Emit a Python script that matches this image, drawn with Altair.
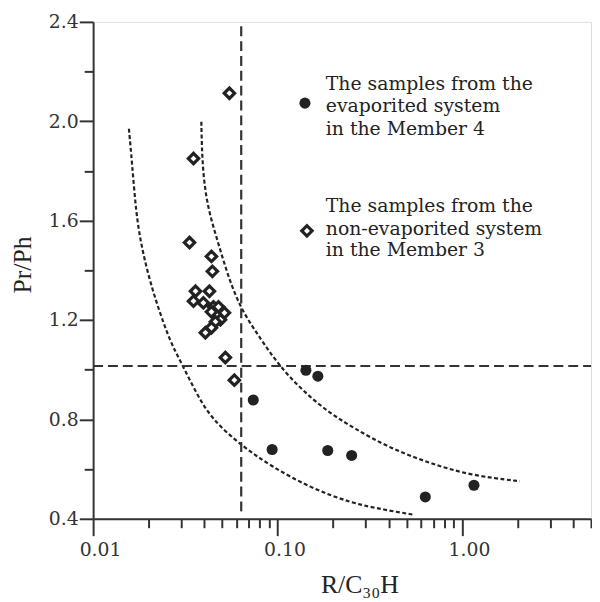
import altair as alt
import pandas as pd

# ---- data ----
evap_x = [0.1424, 0.1653, 0.0738, 0.0934, 0.187, 0.252, 0.632, 1.16]
evap_y = [0.998, 0.974, 0.878, 0.679, 0.675, 0.655, 0.488, 0.535]

non_x = [0.0548, 0.0350, 0.0333, 0.0438, 0.0443, 0.0359, 0.0427, 0.0350, 0.0396,
         0.0449, 0.0478, 0.0515, 0.0438, 0.0490, 0.0460, 0.0438, 0.0406, 0.0521, 0.0583]
non_y = [2.113, 1.850, 1.512, 1.456, 1.396, 1.316, 1.316, 1.276, 1.269,
         1.253, 1.253, 1.229, 1.233, 1.201, 1.193, 1.169, 1.149, 1.049, 0.958]

outer_x = [0.01563, 0.01623, 0.01705, 0.01814, 0.02004, 0.02269, 0.02634, 0.02909,
           0.03593, 0.04381, 0.0635, 0.0923, 0.1516, 0.249, 0.3798, 0.551]
outer_y = [1.970, 1.838, 1.639, 1.508, 1.372, 1.241, 1.109, 1.049,
           0.910, 0.802, 0.695, 0.611, 0.524, 0.464, 0.436, 0.416]

inner_x = [0.0386, 0.0388, 0.0396, 0.0422, 0.04777, 0.05409, 0.0635, 0.0815,
           0.1006, 0.1339, 0.1872, 0.2617, 0.4092, 0.6722, 1.105, 2.055]
inner_y = [1.998, 1.906, 1.771, 1.639, 1.508, 1.372, 1.241, 1.121,
           1.022, 0.922, 0.830, 0.763, 0.683, 0.623, 0.575, 0.551]

vline_x = 0.0635
vline_y = [0.43, 2.4]
hline_y = 1.015
hline_x = [0.01, 5.0]

legend_lines = ["The samples from the", "evaporited system", "in the Member 4",
                "The samples from the", "non-evaporited system", "in the Member 3"]
legend_line_y = [2.149, 2.061, 1.970, 1.659, 1.567, 1.480]
legend_text_x = 0.1826
legend_marker_x = [0.1407, 0.1442]
legend_marker_y = [2.073, 1.559]

x_tick_values = [0.01, 0.02, 0.03, 0.04, 0.05, 0.06, 0.07, 0.08, 0.09,
                 0.1, 0.2, 0.3, 0.4, 0.5, 0.6, 0.7, 0.8, 0.9,
                 1, 2, 3, 4, 5]
y_tick_values = [0.4, 0.6, 0.8, 1.0, 1.2, 1.4, 1.6, 1.8, 2.0, 2.2, 2.4]

INK = "#222222"
AXC = "#333333"
SERIF = "DejaVu Serif"
TSERIF = "Liberation Serif"

xscale = alt.Scale(type="log", domain=[0.01, 5], nice=False)
yscale = alt.Scale(domain=[0.4, 2.4], nice=False, zero=False)

xaxis = alt.Axis(
    values=x_tick_values,
    labelExpr="datum.value == 0.01 ? '0.01' : datum.value == 0.1 ? '0.10' : datum.value == 1 ? '1.00' : ''",
    tickSize={"condition": {"test": "datum.value == 0.01 || datum.value == 0.1 || datum.value == 1", "value": 17}, "value": 9},
    tickWidth=2, tickColor=AXC, domainWidth=2, domainColor=AXC,
    labelFont=SERIF, labelFontSize=19, labelColor=AXC, labelPadding=5,
    labelOffset=7, labelFlush=False, labelOverlap=False, grid=False,
    title="R/C\u2083\u2080H", titleFont=TSERIF, titleFontSize=26, titleFontWeight="normal",
    titleColor=INK, titleX=269, titleY=66, titleBaseline="middle", titleAlign="center",
)
yaxis = alt.Axis(
    values=y_tick_values,
    labelExpr="indexof([0.4, 0.8, 1.2, 1.6, 2.0, 2.4], datum.value) >= 0 ? format(datum.value, '.1f') : ''",
    tickSize={"condition": {"test": "indexof([0.4, 0.8, 1.2, 1.6, 2.0, 2.4], datum.value) >= 0", "value": 14}, "value": 9},
    tickWidth=2, tickColor=AXC, domainWidth=2, domainColor=AXC,
    labelFont=SERIF, labelFontSize=19, labelColor=AXC, labelPadding=1,
    labelFlush=False, labelOverlap=False, grid=False,
    title="Pr/Ph", titleFont=TSERIF, titleFontSize=26, titleFontWeight="normal",
    titleColor=INK, titleX=-71, titleY=245, titleBaseline="middle", titleAlign="center", titleAngle=270,
)

curves = pd.DataFrame({
    "x": outer_x + inner_x,
    "y": outer_y + inner_y,
    "curve": ["outer"] * len(outer_x) + ["inner"] * len(inner_x),
})
evap = pd.DataFrame({"x": evap_x, "y": evap_y})
non = pd.DataFrame({"x": non_x, "y": non_y})
vline = pd.DataFrame({"x": [vline_x], "y": [vline_y[0]], "y2": [vline_y[1]]})
hline = pd.DataFrame({"x": [hline_x[0]], "x2": [hline_x[1]], "y": [hline_y]})
leg_text = pd.DataFrame({"x": [legend_text_x] * len(legend_lines), "y": legend_line_y, "t": legend_lines})
leg_circle = pd.DataFrame({"x": [legend_marker_x[0]], "y": [legend_marker_y[0]]})
leg_diamond = pd.DataFrame({"x": [legend_marker_x[1]], "y": [legend_marker_y[1]]})

X = alt.X("x:Q", scale=xscale, axis=xaxis)
Y = alt.Y("y:Q", scale=yscale, axis=yaxis)

curve_layer = alt.Chart(curves).mark_line(
    strokeDash=[4, 2.5], strokeWidth=2.2, color=INK, interpolate="basis"
).encode(x=X, y=Y, detail="curve:N", order=alt.Order("x:Q"))

v_layer = alt.Chart(vline).mark_rule(strokeDash=[10, 5], strokeWidth=2.2, color=AXC).encode(
    x="x:Q", y="y:Q", y2="y2:Q")
h_layer = alt.Chart(hline).mark_rule(strokeDash=[10, 5], strokeWidth=2.2, color=AXC).encode(
    x="x:Q", x2="x2:Q", y="y:Q")

diamond_style = dict(shape="diamond", filled=True, fill="white", stroke=INK,
                     strokeWidth=3.2, size=110, opacity=1)
circle_style = dict(shape="circle", filled=True, fill=INK, strokeWidth=0, size=125, opacity=1)

non_layer = alt.Chart(non).mark_point(**diamond_style).encode(x="x:Q", y="y:Q")
evap_layer = alt.Chart(evap).mark_point(**circle_style).encode(x="x:Q", y="y:Q")
leg_c_layer = alt.Chart(leg_circle).mark_point(**circle_style).encode(x="x:Q", y="y:Q")
leg_d_layer = alt.Chart(leg_diamond).mark_point(**diamond_style).encode(x="x:Q", y="y:Q")
text_layer = alt.Chart(leg_text).mark_text(
    align="left", baseline="middle", font=SERIF, fontSize=19, color=INK
).encode(x="x:Q", y="y:Q", text="t:N")

chart = alt.layer(
    curve_layer, v_layer, h_layer, non_layer, evap_layer, leg_c_layer, leg_d_layer, text_layer
).properties(
    width=503, height=502,
    autosize=alt.AutoSizeParams(type="none"),
    padding={"left": 86, "top": 11, "right": 1, "bottom": 79},
).configure_view(stroke=None).configure(background="white")

chart.save("out.html", embed_options={"renderer": "svg", "actions": False})
